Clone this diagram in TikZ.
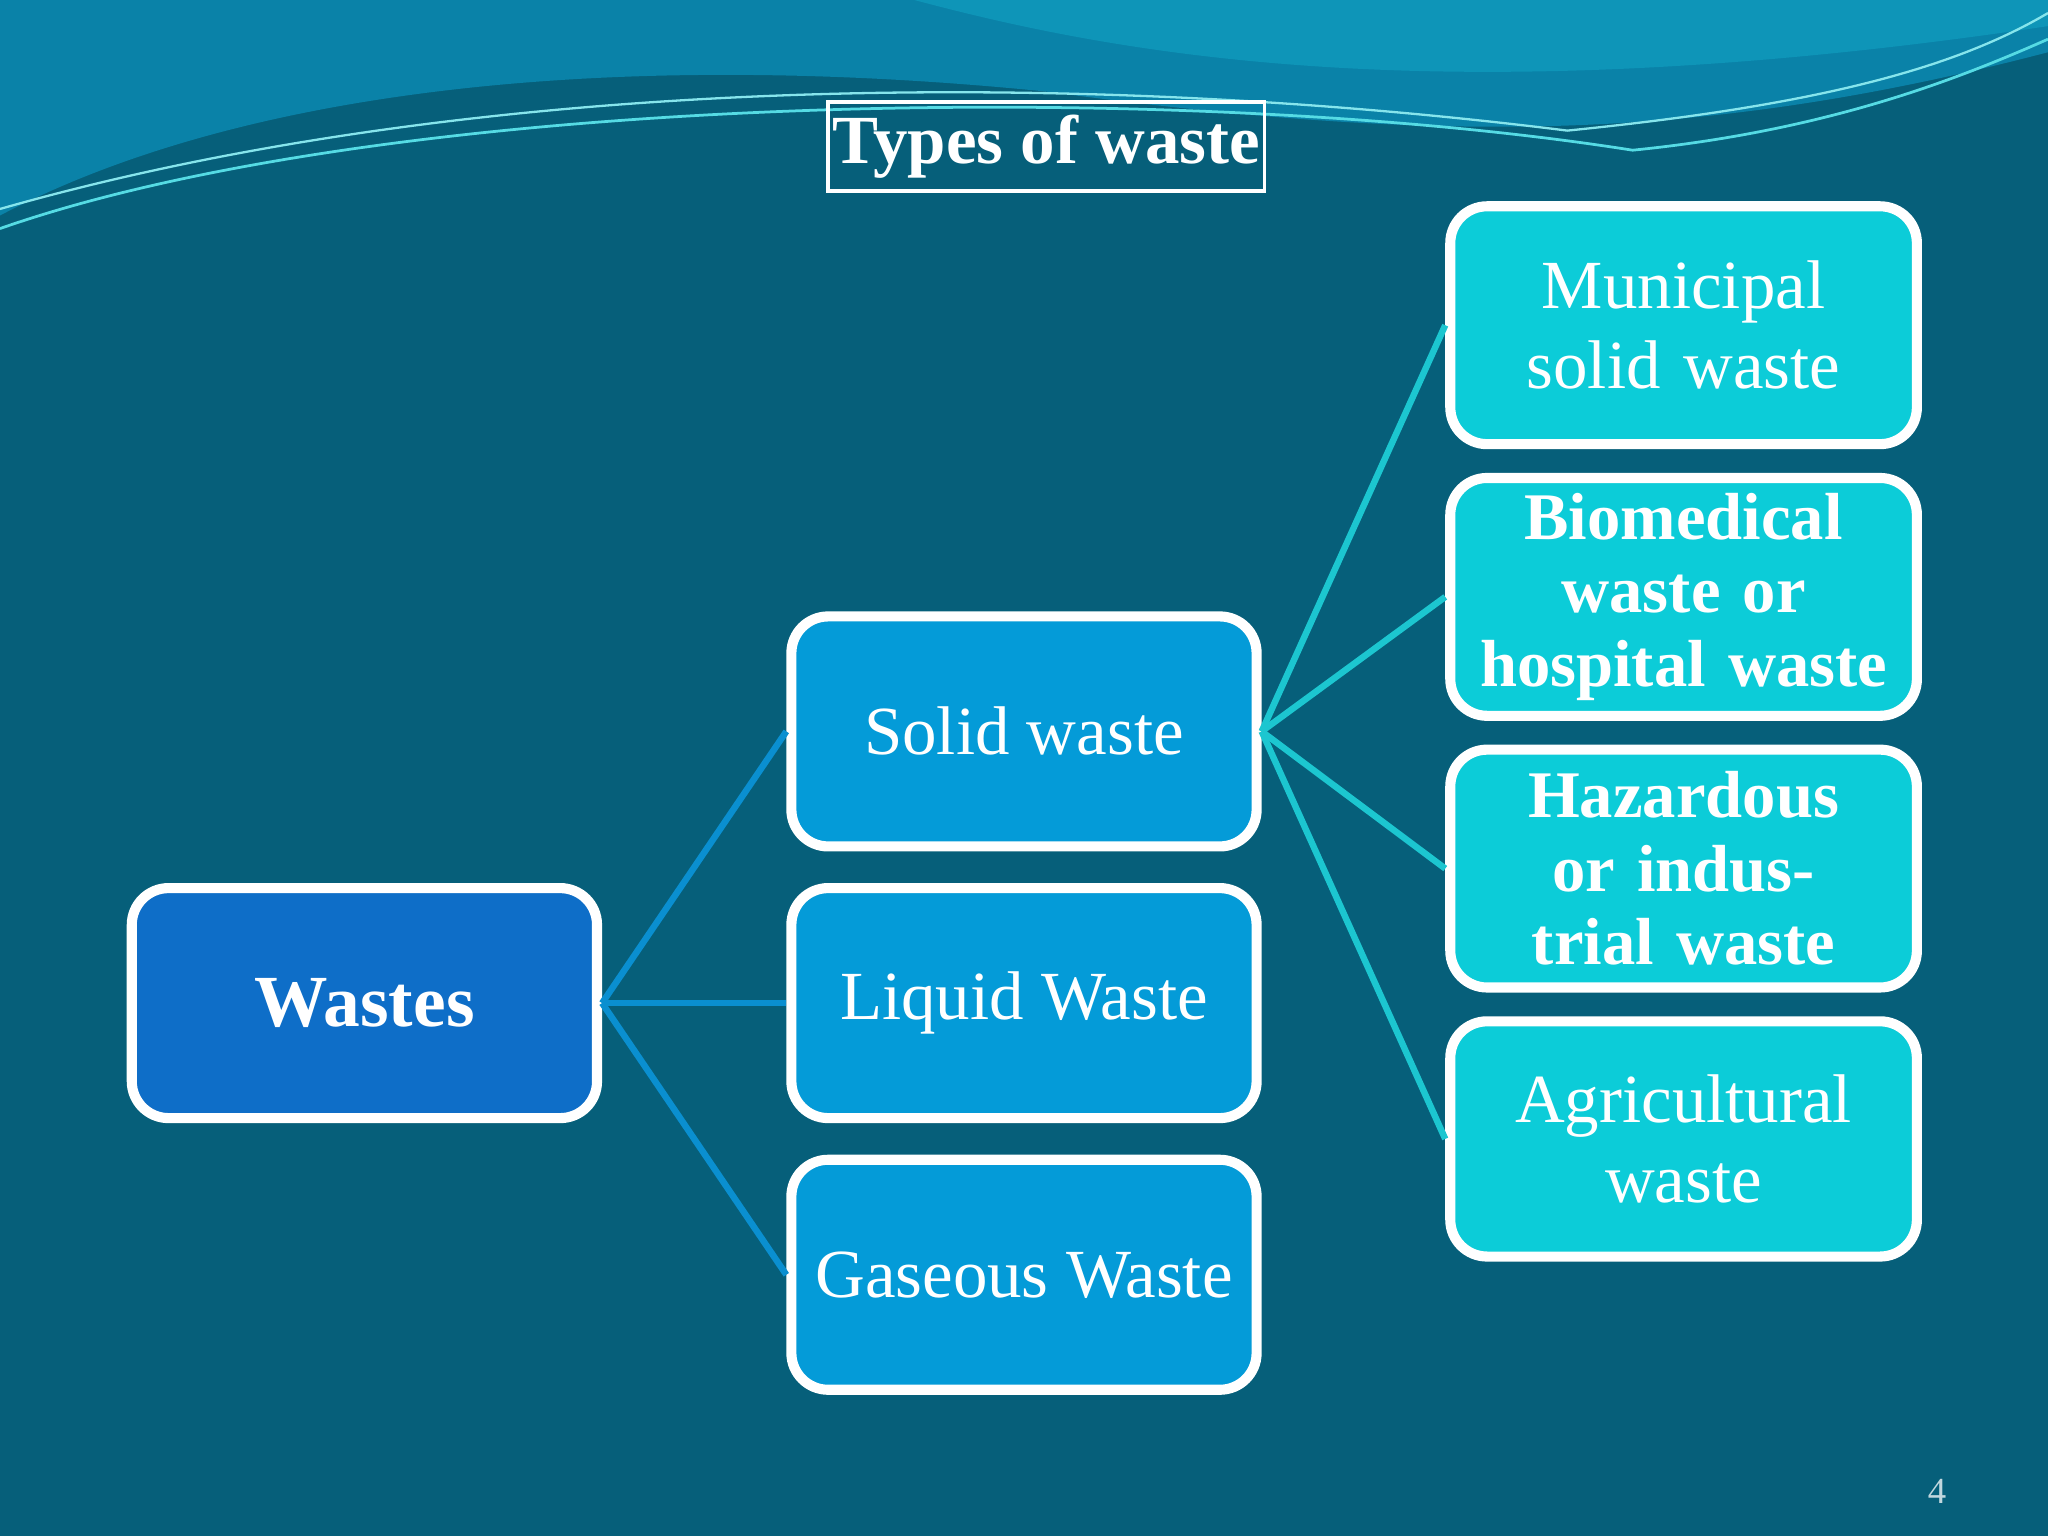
\documentclass[tikz,border=0pt]{standalone}
\usepackage{fontspec}
\setmainfont{Liberation Serif}
\definecolor{bg}{HTML}{065F7A}
\definecolor{wband}{HTML}{0A82A8}
\definecolor{wband2}{HTML}{0E95B8}
\definecolor{cwaste}{HTML}{0E6EC8}
\definecolor{cmid}{HTML}{049BD8}
\definecolor{cright}{HTML}{0CCCD8}
\definecolor{lmid}{HTML}{0A8FD0}
\definecolor{lright}{HTML}{1CC6D0}
\tikzset{
 box/.style={draw=white,line width=2.2pt,rounded corners=8pt,minimum width=3.56cm,minimum height=1.76cm,text=white,align=center,inner sep=1pt},
 midbox/.style={box,fill=cmid,font=\fontsize{15}{17}\selectfont},
 rbox/.style={box,fill=cright,text width=3.5cm},
 lnk/.style={line width=1.4pt},
}
\begin{document}
\begin{tikzpicture}[x=0.01cm,y=-0.01cm]
\fill[bg] (0,0) rectangle (1568,1176);
\useasboundingbox (0,0) rectangle (1568,1176);
% top waves
\fill[wband] (0,0) -- (1568,0) -- (1568,40) .. controls (1300,110) and (1100,110) .. (800,70) .. controls (500,40) and (200,60) .. (0,165) -- cycle;
\fill[wband2] (0,0) -- (700,0) .. controls (850,40) and (1100,90) .. (1568,20) -- (1568,0) -- cycle;
\draw[cright!70,line width=0.6pt] (0,175) .. controls (300,70) and (900,60) .. (1250,115) .. controls (1400,100) and (1500,60) .. (1568,30);
\draw[cright!50,line width=0.5pt] (0,160) .. controls (350,60) and (800,50) .. (1200,100) .. controls (1400,80) and (1500,50) .. (1568,10);
% title
\node[draw=white,line width=0.8pt,minimum width=3.04cm,minimum height=0.68cm,text=white,font=\bfseries\fontsize{15}{17}\selectfont,inner sep=1pt] (title) at (801,112) {Types of waste};
% boxes
\node[box,fill=cwaste,font=\bfseries\fontsize{16}{18}\selectfont] (wastes) at (279,768) {Wastes};
\node[midbox] (solid) at (784,560) {Solid waste};
\node[midbox] (liquid) at (784,768) {Liquid Waste};
\node[midbox] (gas) at (784,976) {Gaseous Waste};
\node[rbox,minimum height=1.82cm,font=\fontsize{15}{17.5}\selectfont] (muni) at (1289,249) {Municipal solid waste};
\node[rbox,minimum height=1.82cm,font=\bfseries\fontsize{14.5}{16}\selectfont] (bio) at (1289,457) {Biomedical waste or hospital waste};
\node[rbox,minimum height=1.82cm,font=\bfseries\fontsize{14.5}{16}\selectfont] (haz) at (1289,665) {Hazardous or industrial waste};
\node[rbox,minimum height=1.80cm,font=\fontsize{15}{17.5}\selectfont] (agri) at (1289,872) {Agricultural waste};
% links
\foreach \t in {solid,liquid,gas} \draw[lnk,lmid] (wastes.east) -- (\t.west);
\foreach \t in {muni,bio,haz,agri} \draw[lnk,lright] (solid.east) -- (\t.west);
\node[text=white!75!bg,font=\fontsize{8}{9}\selectfont] (pg) at (1483,1142) {4};
\end{tikzpicture}
\end{document}
